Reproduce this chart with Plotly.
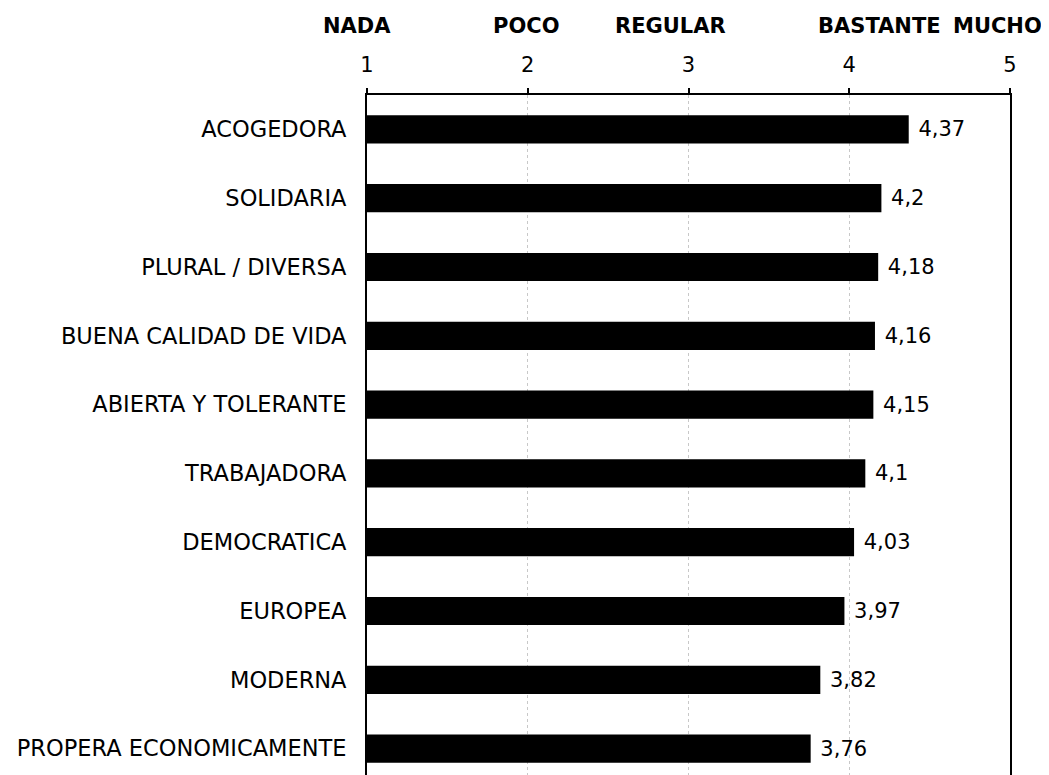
import plotly.graph_objects as go

categories = ["ACOGEDORA", "SOLIDARIA", "PLURAL / DIVERSA", "BUENA CALIDAD DE VIDA",
              "ABIERTA Y TOLERANTE", "TRABAJADORA", "DEMOCRATICA", "EUROPEA",
              "MODERNA", "PROPERA ECONOMICAMENTE"]
values = [4.37, 4.2, 4.18, 4.16, 4.15, 4.1, 4.03, 3.97, 3.82, 3.76]
scale_ticks = [1, 2, 3, 4, 5]
scale_labels = ["NADA", "POCO", "REGULAR", "BASTANTE", "MUCHO"]

FONT = "DejaVu Sans, Verdana, sans-serif"
FS = 21

text_vals = ["\u00a0" + ("%g" % v).replace(".", ",") for v in values]

fig = go.Figure(go.Bar(
    x=[v - 1 for v in values], base=1, y=categories, orientation="h",
    marker=dict(color="black", line=dict(width=0)),
    text=text_vals, textposition="outside", cliponaxis=False,
    textfont=dict(family=FONT, size=FS, color="black"),
    hoverinfo="skip",
))

# scale word labels above the tick numbers (offsets from their tick, in axis units)
label_offsets = [-0.06, -0.01, -0.11, 0.19, -0.08]
XMIN, XMAX = 1, 5
for t, lab, off in zip(scale_ticks, scale_labels, label_offsets):
    fig.add_annotation(x=(t + off - XMIN) / (XMAX - XMIN), y=1, xref="paper", yref="paper",
                       xanchor="center", yanchor="middle", yshift=69,
                       text="<b>%s</b>" % lab, showarrow=False,
                       font=dict(family=FONT, size=FS, color="black"))

fig.update_layout(
    width=1049, height=775,
    margin=dict(l=359, r=47, t=87, b=0),
    paper_bgcolor="white", plot_bgcolor="white",
    bargap=0.59, showlegend=False,
    font=dict(family=FONT, size=FS, color="black"),
)
fig.update_xaxes(
    range=[XMIN, XMAX], side="top", tickvals=scale_ticks, ticktext=[str(t) for t in scale_ticks],
    showline=True, linecolor="black", linewidth=2,
    ticks="outside", ticklen=5, tickwidth=2, tickcolor="black",
    ticklabelstandoff=8,
    showgrid=True, gridcolor="#c8c8c8", griddash="dot", gridwidth=1,
    zeroline=False, tickfont=dict(family=FONT, size=FS),
)
fig.update_yaxes(
    range=[9.5, -0.5], showline=True, mirror=True, linecolor="black", linewidth=2,
    ticks="", ticklabelstandoff=14, showgrid=False,
    tickfont=dict(family=FONT, size=22.5),
)

fig.write_html("out.html")
